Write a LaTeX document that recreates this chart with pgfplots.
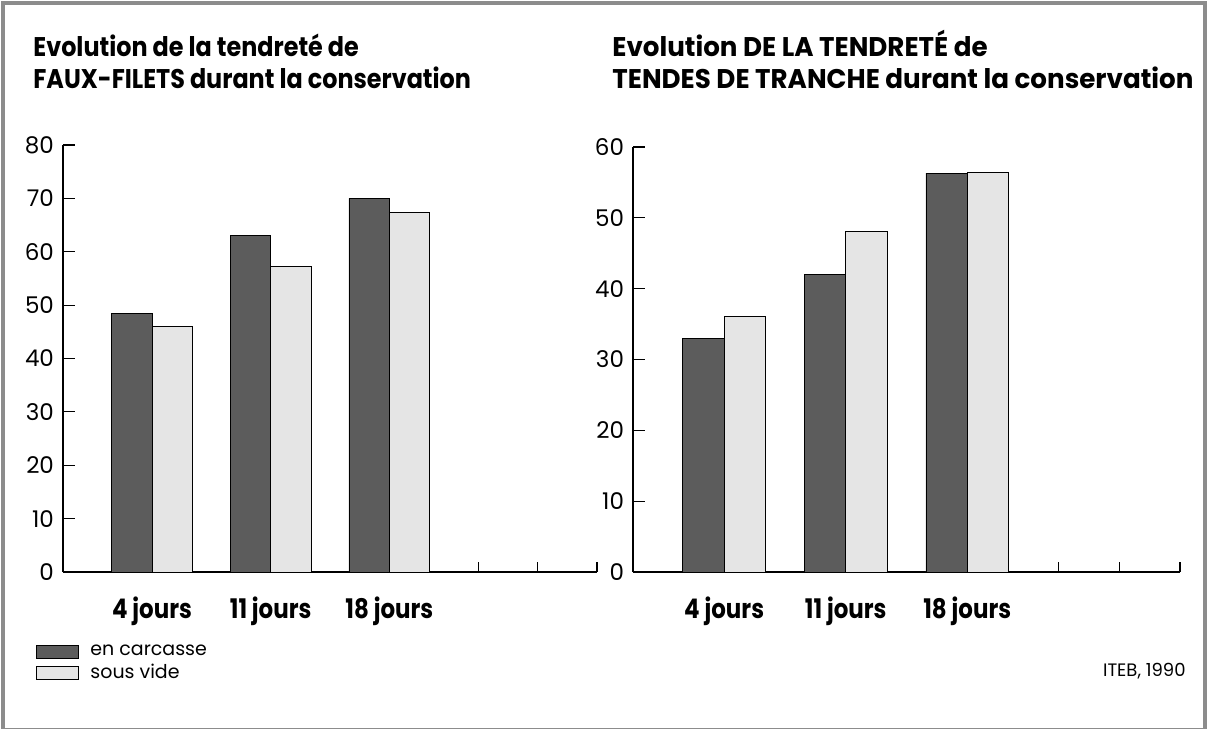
\documentclass[border=0pt]{standalone}
\usepackage{fontspec}
\setmainfont{Poppins}
\newfontfamily\titlefont[FakeStretch=0.85]{Poppins}
\newfontfamily\labfont[FakeStretch=0.85]{Poppins}
\usepackage{pgfplots}
\pgfplotsset{compat=1.18}
\definecolor{darkbar}{gray}{0.36}
\definecolor{lightbar}{gray}{0.90}
\pgfplotsset{
  mybars/.style={
    scale only axis,
    ybar=0pt, bar width=0.68,
    xmin=0, xmax=9, ymin=0,
    axis x line*=bottom, axis y line*=left,
    x axis line style={-}, y axis line style={-},
    tick align=inside,
    major tick length=6pt,
    xtick={1.5,3.5,5.5},
    xticklabels={4 jours, 11 jours, 18 jours},
    x tick style={draw=none},
    xticklabel style={font=\labfont\bfseries\fontsize{13.5}{15}\selectfont, yshift=-9pt},
    yticklabel style={font=\fontsize{11.5}{13}\selectfont, xshift=-1pt},
    /pgf/number format/assume math mode=true,
    extra x ticks={7,8,9},
    extra x tick labels={},
    extra x tick style={x tick style={draw=black}, major tick length=5pt, tick align=inside},
    axis line style={line width=0.6pt},
    every tick/.style={black, line width=0.6pt},
    clip=false,
  }
}
\newcommand{\tf}{\titlefont\bfseries\fontsize{13.5}{16}\selectfont}
\begin{document}
\begin{tikzpicture}[x=0.5pt,y=0.5pt]
\useasboundingbox (0,0) rectangle (1208,728);
\draw[black!45, line width=2pt] (3,-2) rectangle (1205,725);
% titles (y = 728 - pixel row)
\node[anchor=base west, inner sep=0, font=\tf] at (33,671) {\scalebox{1.04}[1]{Evolution de la tendreté de}};
\node[anchor=base west, inner sep=0, font=\tf] at (33,639) {\scalebox{1.04}[1]{FAUX-FILETS durant la conservation}};
\node[anchor=base west, inner sep=0, font=\tf] at (612,671) {\scalebox{1.14}[1]{Evolution DE LA TENDRETÉ de}};
\node[anchor=base west, inner sep=0, font=\tf] at (612,639) {\scalebox{1.14}[1]{TENDES DE TRANCHE durant la conservation}};
\begin{axis}[mybars, at={(31.5pt,78pt)}, anchor=south west,
  width=267pt, height=213.5pt, ymax=80, ytick={0,10,...,80},
  legend style={at={(-0.052,-0.16)}, anchor=north west, draw=none, fill=none,
    font=\fontsize{9.5}{11}\selectfont, inner sep=0pt, row sep=-1pt,
    /tikz/every odd column/.append style={column sep=4pt}},
  legend cell align=left,
  legend image code/.code={\draw[#1] (0pt,-3.3pt) rectangle (21pt,3.3pt);},
]
\addplot[fill=darkbar, draw=black] coordinates {(1.5,48.4) (3.5,63.0) (5.5,70.0)};
\addplot[fill=lightbar, draw=black] coordinates {(1.5,46.0) (3.5,57.3) (5.5,67.4)};
\legend{en carcasse, sous vide}
\end{axis}
\begin{axis}[mybars, at={(316.5pt,78pt)}, anchor=south west,
  width=273.5pt, height=212.5pt, ymax=60, ytick={0,10,...,60}]
\addplot[fill=darkbar, draw=black] coordinates {(1.5,33.0) (3.5,42.0) (5.5,56.3)};
\addplot[fill=lightbar, draw=black] coordinates {(1.5,36.1) (3.5,48.1) (5.5,56.4)};
\end{axis}
\node[anchor=base east, inner sep=0, font=\fontsize{9}{11}\selectfont] at (1186,52) {ITEB, 1990};
\end{tikzpicture}
\end{document}
